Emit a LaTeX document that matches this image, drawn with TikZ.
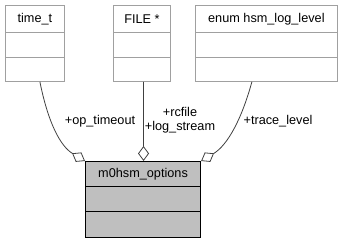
\documentclass[tikz,border=0pt]{standalone}
\usepackage{fontspec}
\setmainfont{Liberation Sans}
\usetikzlibrary{arrows.meta}
\definecolor{boxgray}{HTML}{A0A0A0}
\definecolor{edgegray}{HTML}{404040}
\definecolor{mainfill}{HTML}{BFBFBF}
\begin{document}
\begin{tikzpicture}[x=1pt,y=-1pt,
  font=\fontsize{12.7}{14}\selectfont,
  cell/.style={draw=boxgray, fill=white, line width=0.8pt, inner sep=0pt,
    anchor=north west, minimum width=#1},
  maincell/.style={draw=black, fill=mainfill, line width=1.1pt, inner sep=0pt,
    anchor=north west, minimum width=115pt},
  assoc/.style={draw=edgegray, line width=0.8pt,
    -{Diamond[open, length=15pt, width=11pt]}},
  lbl/.style={inner sep=0pt, align=center}]
\useasboundingbox (0,0) rectangle (343,243);

% used types
\node[cell=59pt, minimum height=27pt] (tt) at (5,5) {time\_t};
\node[cell=59pt, minimum height=25pt] (tta) at (5,32) {};
\node[cell=59pt, minimum height=24pt] (ttb) at (5,57) {};

\node[cell=57pt, minimum height=27pt] (fp) at (113,5) {FILE *};
\node[cell=57pt, minimum height=25pt] (fpa) at (113,32) {};
\node[cell=57pt, minimum height=24pt] (fpb) at (113,57) {};

\node[cell=142pt, minimum height=27pt] (ll) at (195,5) {enum hsm\_log\_level};
\node[cell=142pt, minimum height=25pt] (lla) at (195,32) {};
\node[cell=142pt, minimum height=24pt] (llb) at (195,57) {};

% the options structure
\node[maincell, minimum height=25pt] (opt) at (85,161) {m0hsm\_options};
\node[maincell, minimum height=25pt] (opta) at (85,186) {};
\node[maincell, minimum height=26pt] (optb) at (85,211) {};

% associations
\draw[assoc] ([xshift=5pt]ttb.south) .. controls (48,122) and (60,146) .. (opt.north west);
\draw[assoc] ([xshift=1.5pt]fpb.south) -- ([xshift=0.5pt]opt.north);
\draw[assoc] ([xshift=-14.5pt]llb.south) .. controls (242,118) and (228,145) .. (opt.north east);

% member labels
\node[lbl] (l1) at (100,121) {+op\_timeout};
\node[lbl] (l2) at (180,120) {+rcfile\\+log\_stream};
\node[lbl] (l3) at (278,121) {+trace\_level};
\end{tikzpicture}
\end{document}
